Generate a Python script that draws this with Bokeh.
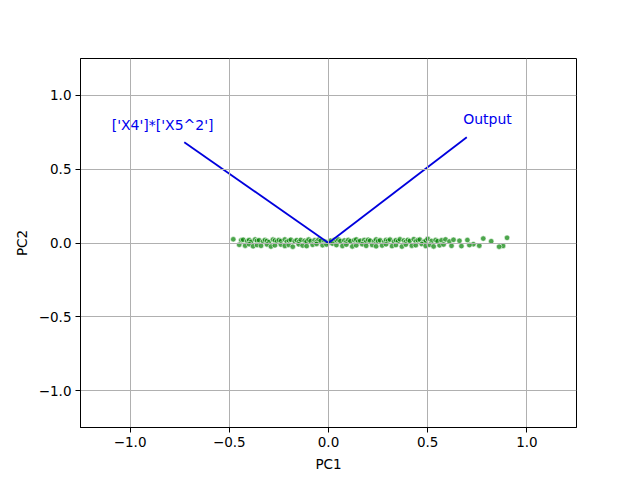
from bokeh.plotting import figure
from bokeh.models import FixedTicker, ColumnDataSource
from bokeh.embed import file_html
from bokeh.resources import INLINE
from bokeh.core.properties import value

# Scores (upper band)
pc1_a = [-0.48, -0.44, -0.43, -0.41, -0.40, -0.39, -0.37, -0.36, -0.35, -0.33,
         -0.32, -0.31, -0.30, -0.28, -0.27, -0.26, -0.25, -0.24, -0.22, -0.21,
         -0.20, -0.19, -0.17, -0.16, -0.15, -0.14, -0.12, -0.11, -0.10, -0.09,
         -0.07, -0.06, -0.05, -0.04, -0.02, -0.01, 0.00, 0.01, 0.03, 0.04,
         0.05, 0.06, 0.08, 0.09, 0.10, 0.11, 0.13, 0.14, 0.15, 0.16,
         0.18, 0.19, 0.20, 0.21, 0.23, 0.24, 0.25, 0.26, 0.28, 0.29,
         0.30, 0.31, 0.33, 0.34, 0.35, 0.36, 0.38, 0.39, 0.40, 0.41,
         0.43, 0.44, 0.45, 0.46, 0.48, 0.49, 0.50, 0.52, 0.54, 0.55,
         0.57, 0.59, 0.61, 0.63, 0.66, 0.70, 0.73, 0.78, 0.88, 0.90]
pc2_a = [0.025, 0.018, 0.022, 0.012, 0.020, 0.008, 0.024, 0.015, 0.019, 0.010,
         0.021, 0.014, 0.006, 0.023, 0.017, 0.011, 0.020, 0.013, 0.024, 0.009,
         0.016, 0.022, 0.012, 0.019, 0.007, 0.021, 0.015, 0.010, 0.023, 0.013,
         0.018, 0.008, 0.022, 0.014, 0.011, 0.005, 0.002, 0.016, 0.020, 0.009,
         0.023, 0.013, 0.017, 0.006, 0.021, 0.012, 0.019, 0.024, 0.010, 0.015,
         0.020, 0.008, 0.022, 0.016, 0.011, 0.024, 0.013, 0.018, 0.007, 0.021,
         0.015, 0.023, 0.010, 0.019, 0.012, 0.025, 0.017, 0.008, 0.021, 0.014,
         0.026, 0.011, 0.019, 0.023, 0.009, 0.016, 0.028, 0.014, 0.020, 0.012,
         0.018, 0.024, 0.010, 0.022, 0.015, 0.020, -0.008, 0.030, -0.020, 0.035]

# Scores (lower band)
pc1_b = [-0.45, -0.42, -0.40, -0.38, -0.36, -0.34, -0.31, -0.29, -0.27, -0.24,
         -0.22, -0.20, -0.18, -0.15, -0.13, -0.11, -0.08, -0.06, -0.03, -0.01,
         0.02, 0.04, 0.07, 0.09, 0.12, 0.14, 0.17, 0.19, 0.22, 0.24,
         0.27, 0.29, 0.32, 0.34, 0.37, 0.39, 0.42, 0.44, 0.47, 0.49,
         0.51, 0.53, 0.56, 0.58, 0.62, 0.67, 0.71, 0.76, 0.82, 0.86]
pc2_b = [-0.012, -0.018, -0.008, -0.022, -0.014, -0.019, -0.010, -0.024, -0.016, -0.011,
         -0.020, -0.013, -0.025, -0.009, -0.017, -0.021, -0.012, -0.006, -0.015, -0.010,
         -0.004, -0.014, -0.020, -0.011, -0.023, -0.016, -0.008, -0.019, -0.013, -0.022,
         -0.017, -0.009, -0.021, -0.014, -0.024, -0.011, -0.018, -0.015, -0.007, -0.020,
         -0.012, -0.023, -0.016, -0.010, -0.019, -0.021, -0.014, -0.018, 0.012, -0.025]

# Loadings
load_names = ["['X4']*['X5^2']", "Output"]
load_x = [-0.727, 0.697]
load_y = [0.683, 0.717]

tick_vals = [-1.0, -0.5, 0.0, 0.5, 1.0]
tick_labels = ["\u22121.0", "\u22120.5", "0.0", "0.5", "1.0"]

FONT = "DejaVu Sans"

p = figure(width=640, height=480, x_range=(-1.25, 1.25), y_range=(-1.25, 1.25),
           output_backend="svg", toolbar_location=None,
           min_border_left=80, min_border_right=64, min_border_top=58, min_border_bottom=53)
p.background_fill_color = "white"
p.border_fill_color = "white"
p.outline_line_color = "black"
p.outline_line_width = 1
p.outline_line_alpha = 1

for ax in (p.xaxis[0], p.yaxis[0]):
    ax.ticker = FixedTicker(ticks=tick_vals)
    ax.major_label_overrides = {v: l for v, l in zip(tick_vals, tick_labels)}
    ax.major_label_text_font = FONT
    ax.major_label_text_font_size = "13.5px"
    ax.major_label_text_color = "black"
    ax.axis_label_text_font = FONT
    ax.axis_label_text_font_size = "13.5px"
    ax.axis_label_text_font_style = "normal"
    ax.axis_label_text_color = "black"
    ax.major_tick_in = 0
    ax.major_tick_out = 5
    ax.minor_tick_in = 0
    ax.minor_tick_out = 0
    ax.axis_line_color = "black"
    ax.major_tick_line_color = "black"

p.xaxis.axis_label = "PC1"
p.yaxis.axis_label = "PC2"
p.xaxis.major_label_standoff = 4
p.yaxis.major_label_standoff = 4
p.xaxis.axis_label_standoff = 6
p.yaxis.axis_label_standoff = 6

p.grid.grid_line_color = "#b0b0b0"
p.grid.grid_line_width = 1
p.grid.level = "glyph"

src = ColumnDataSource(dict(x=pc1_a + pc1_b, y=pc2_a + pc2_b))
p.scatter("x", "y", source=src, size=5.5, fill_color="green", fill_alpha=0.7,
          line_color="white", line_width=0.6)

lsrc = ColumnDataSource(dict(
    x0=[0.0] * len(load_x), y0=[0.0] * len(load_y),
    x1=load_x, y1=load_y,
    tx=[v * 1.15 for v in load_x], ty=[v * 1.15 for v in load_y],
    name=load_names))
p.segment("x0", "y0", "x1", "y1", source=lsrc, line_color="#0000dd", line_width=1.8)
p.text("tx", "ty", text="name", source=lsrc, text_color="#0000ee",
       text_font=value(FONT), text_font_size="14px", y_offset=-2,
       text_align="center", text_baseline="middle")

open("out.html", "w").write(file_html(p, INLINE))
